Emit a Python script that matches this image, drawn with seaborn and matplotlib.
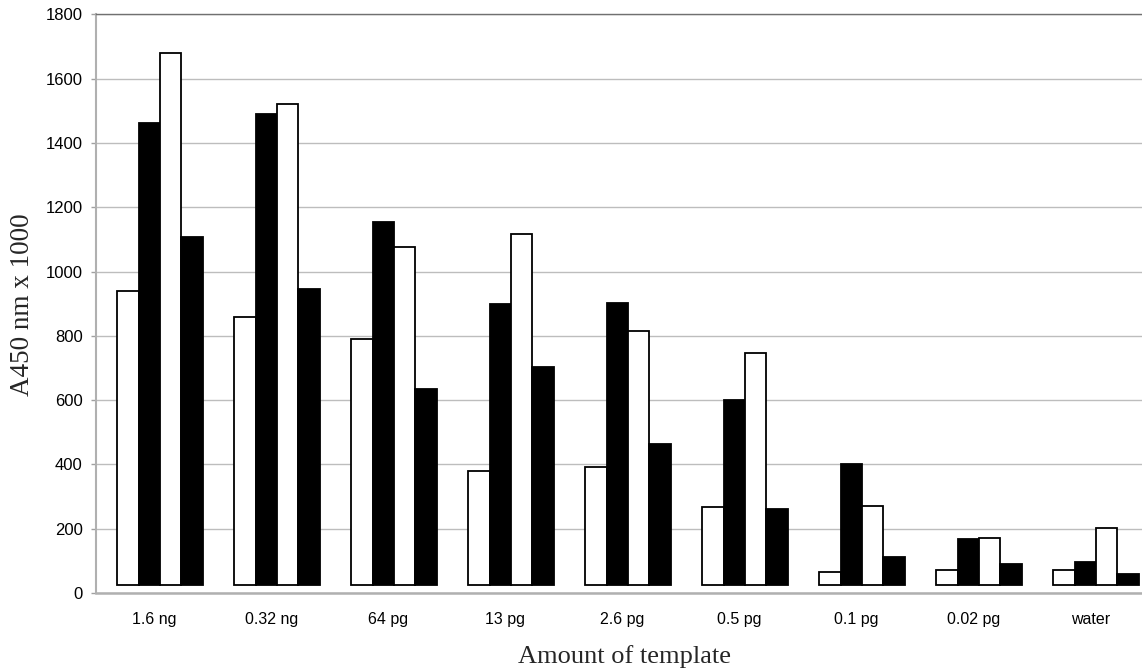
import numpy as np
import pandas as pd
import seaborn as sns
from matplotlib import pyplot as plt

# values (bar tops), four replicate series per template amount
templates = ["1.6 ng", "0.32 ng", "64 pg", "13 pg", "2.6 pg", "0.5 pg", "0.1 pg", "0.02 pg", "water"]
series_1 = [940, 857, 789, 380, 393, 268, 65, 72, 72]
series_2 = [1461, 1491, 1155, 900, 901, 599, 400, 169, 95]
series_3 = [1679, 1520, 1077, 1117, 815, 745, 272, 170, 201]
series_4 = [1106, 946, 635, 704, 464, 261, 113, 91, 58]
series_names = ["1", "2", "3", "4"]
y_ticks = [0, 200, 400, 600, 800, 1000, 1200, 1400, 1600, 1800]

BASE = 25  # bars in the original start slightly above the axis


def main():
    rows = []
    for name, vals in zip(series_names, [series_1, series_2, series_3, series_4]):
        for t, v in zip(templates, vals):
            rows.append({"template": t, "series": name, "height": v - BASE})
    df = pd.DataFrame(rows)

    sns.set_style("white")
    plt.rcParams["font.family"] = ["Liberation Sans", "DejaVu Sans"]

    fig = plt.figure(figsize=(11.42, 6.69), dpi=100)
    ax = fig.add_axes([96 / 1142, 76 / 669, 1054 / 1142, 578.7 / 669])

    sns.barplot(data=df, x="template", y="height", hue="series",
                palette=["white", "black", "white", "black"],
                width=0.728, edgecolor="black", linewidth=1.3,
                bottom=BASE, legend=False, ax=ax)

    ax.set_ylim(0, 1800)
    ax.set_xlim(-0.547, 8.462)

    # gridlines
    ax.set_yticks(y_ticks)
    ax.yaxis.grid(True, color="#bdbdbd", linewidth=1.0)
    ax.set_axisbelow(True)

    # spines
    ax.spines["right"].set_visible(False)
    ax.spines["top"].set_color("#707070")
    ax.spines["top"].set_linewidth(1.0)
    ax.spines["left"].set_color("#b0b0b0")
    ax.spines["left"].set_linewidth(1.5)
    ax.spines["bottom"].set_color("#b0b0b0")
    ax.spines["bottom"].set_linewidth(1.8)

    # tick labels at category centres, tick marks at category boundaries
    centers = np.arange(len(templates)) - 0.047
    ax.set_xticks(centers, templates)
    ax.set_xticks(np.arange(len(templates) + 1) - 0.547, minor=True)
    ax.tick_params(axis="x", which="major", length=0, pad=14, labelsize=11.5, colors="black")
    ax.tick_params(axis="x", which="minor", length=3.5, width=1, color="#b0b0b0", direction="out")
    ax.tick_params(axis="y", length=3.6, width=1, color="#a0a0a0", direction="out",
                   pad=6, labelsize=12, labelcolor="black", left=True)

    ax.set_xlabel("Amount of template", fontsize=19, family=["Liberation Serif", "DejaVu Serif"])
    ax.xaxis.set_label_coords((624 - 96) / 1054, -(663 - 593) / 578.7)
    ax.xaxis.label.set_va("baseline")
    ax.set_ylabel("")
    fig.text(23 / 1142, 1 - 305 / 669, "A450 nm x 1000", rotation=90, ha="center", va="center",
             fontsize=19.5, family=["Liberation Serif", "DejaVu Serif"])

    plt.savefig("out.png", dpi=100)
    return 0


if __name__ == "__main__":
    main()
